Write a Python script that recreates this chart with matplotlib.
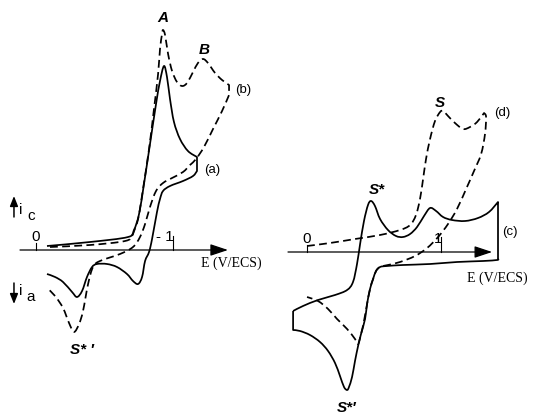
import matplotlib
matplotlib.use("Agg")
import matplotlib.pyplot as plt
from matplotlib.path import Path
from matplotlib.patches import PathPatch
import numpy as np

# ---------------- data (E in V/ECS, i in arbitrary current units) -------------
# Left panel, curve (a) solid
a_E = [-0.080, -0.394, -0.672, -0.715, -0.752, -0.788, -0.832, -0.876, -0.905, -0.934,
       -0.956, -0.978, -1.007, -1.051, -1.109, -1.175,
       -1.175, -1.146, -1.073, -0.978, -0.927, -0.905, -0.883, -0.847, -0.825, -0.796,
       -0.774, -0.745, -0.708, -0.664, -0.591, -0.518, -0.445, -0.409, -0.372, -0.336,
       -0.299, -0.263, -0.197, -0.139, -0.080]
a_i = [0.04, 0.08, 0.13, 0.20, 0.36, 0.66, 1.06, 1.46, 1.69, 1.84,
       1.73, 1.51, 1.28, 1.11, 0.99, 0.93,
       0.79, 0.74, 0.69, 0.64, 0.59, 0.51, 0.38, 0.11, -0.02, -0.11,
       -0.27, -0.34, -0.31, -0.24, -0.17, -0.14, -0.14, -0.17, -0.27, -0.41,
       -0.47, -0.42, -0.32, -0.27, -0.24]

# Left panel, curve (b) dashed
b_E = [-0.102, -0.394, -0.650, -0.701, -0.745, -0.781, -0.825, -0.861, -0.891, -0.905,
       -0.920, -0.927, -0.942, -0.964, -0.993, -1.029, -1.066, -1.102, -1.146, -1.182,
       -1.219, -1.255, -1.307, -1.358, -1.409,
       -1.409, -1.358, -1.292, -1.226, -1.168, -1.124, -1.073, -0.993, -0.927, -0.876,
       -0.832, -0.796, -0.759, -0.708, -0.613, -0.467, -0.416, -0.380, -0.343, -0.314,
       -0.277, -0.241, -0.197, -0.139, -0.080]
b_i = [0.03, 0.05, 0.09, 0.15, 0.31, 0.61, 1.01, 1.41, 1.76, 2.01,
       2.16, 2.20, 2.15, 1.96, 1.79, 1.68, 1.64, 1.67, 1.78, 1.87,
       1.91, 1.87, 1.77, 1.70, 1.65,
       1.55, 1.39, 1.21, 1.03, 0.91, 0.85, 0.78, 0.72, 0.67, 0.59,
       0.43, 0.26, 0.13, 0.03, -0.04, -0.11, -0.17, -0.34, -0.61, -0.74,
       -0.82, -0.73, -0.58, -0.46, -0.38]

# Right panel, curve (c) solid
c_E = [-0.104, -0.030, 0.082, 0.209, 0.299, 0.343, 0.373, 0.396, 0.425, 0.455,
       0.478, 0.507, 0.545, 0.604, 0.664, 0.716, 0.769, 0.821, 0.873, 0.918,
       0.963, 1.015, 1.082, 1.179, 1.276, 1.358, 1.425,
       1.425, 1.418, 1.313, 1.119, 0.918, 0.716, 0.597, 0.545, 0.515, 0.493,
       0.470, 0.448, 0.433, 0.403, 0.381, 0.358, 0.336, 0.313, 0.299, 0.276,
       0.246, 0.209, 0.157, 0.097, 0.022, -0.052, -0.104, -0.104]
c_i = [-0.59, -0.54, -0.48, -0.43, -0.38, -0.30, -0.12, 0.08, 0.31, 0.47,
       0.51, 0.46, 0.33, 0.22, 0.16, 0.15, 0.18, 0.25, 0.36, 0.44,
       0.41, 0.35, 0.32, 0.31, 0.34, 0.40, 0.50,
       -0.07, -0.08, -0.09, -0.10, -0.12, -0.13, -0.14, -0.15, -0.19, -0.27,
       -0.37, -0.52, -0.67, -0.82, -0.94, -1.09, -1.25, -1.35, -1.38, -1.35,
       -1.24, -1.11, -0.99, -0.90, -0.83, -0.79, -0.78, -0.59]

# Right panel, curve (d) dashed
d_E = [0.000, 0.172, 0.358, 0.545, 0.694, 0.769, 0.813, 0.843, 0.866, 0.888,
       0.918, 0.955, 0.993, 1.015, 1.052, 1.104, 1.164, 1.216, 1.269, 1.321,
       1.336, 1.328, 1.299, 1.246, 1.187, 1.119, 1.052, 0.978, 0.896, 0.806,
       0.694, 0.604, 0.545, 0.515, 0.493, 0.470, 0.448, 0.425, 0.403, 0.381,
       0.358, 0.299, 0.224, 0.157, 0.082, 0.000]
d_i = [0.06, 0.09, 0.13, 0.17, 0.22, 0.27, 0.37, 0.53, 0.73, 0.93,
       1.13, 1.31, 1.40, 1.41, 1.36, 1.29, 1.23, 1.25, 1.30, 1.39,
       1.35, 1.18, 0.98, 0.81, 0.63, 0.43, 0.28, 0.15, 0.04, -0.04,
       -0.10, -0.13, -0.15, -0.19, -0.27, -0.37, -0.52, -0.69, -0.82, -0.92,
       -0.87, -0.77, -0.67, -0.57, -0.49, -0.45]

left_ticks = [0, -1]
left_tick_labels = ["0", "- 1"]
right_ticks = [0, 1]
right_tick_labels = ["0", "1"]

# indices where the sweep reverses (sharp corners kept)
a_corners = [15, 16]
b_corners = [24, 25]
c_corners = [26, 27, 53]
d_corners = [19]


def smooth_path(xs, ys, corners):
    """Cubic path passing through every given point (Catmull-Rom tangents),
    broken into independent pieces at the sharp switching corners."""
    pts = np.column_stack([xs, ys])
    cuts = [0] + sorted(corners) + [len(pts) - 1]
    verts = [pts[0]]
    codes = [Path.MOVETO]
    for s, e in zip(cuts[:-1], cuts[1:]):
        seg = pts[s:e + 1]
        n = len(seg)
        for k in range(n - 1):
            p0 = seg[k - 1] if k > 0 else seg[k]
            p1, p2 = seg[k], seg[k + 1]
            p3 = seg[k + 2] if k + 2 < n else seg[k + 1]
            verts += [p1 + (p2 - p0) / 6.0, p2 - (p3 - p1) / 6.0, p2]
            codes += [Path.CURVE4] * 3
    return Path(verts, codes)


# ---------------- figure --------------------------------------------------------
fig = plt.figure(figsize=(5.37, 4.14), dpi=100)
axL = fig.add_axes([0, 0, 1, 1])
axR = fig.add_axes([0, 0, 1, 1])
axR.patch.set_alpha(0)
axL.set_xlim(0.263, -3.657)
axL.set_ylim(-1.63, 2.51)
axR.set_xlim(-2.291, 1.716)
axR.set_ylim(-1.61, 2.53)
for ax in (axL, axR):
    ax.axis("off")

dash = (0, (4.5, 2.5))
lw = 1.25
sans = ["Liberation Sans", "DejaVu Sans"]
serif = ["Liberation Serif", "DejaVu Serif"]


def draw_curve(ax, xs, ys, corners, ls):
    ax.add_patch(PathPatch(smooth_path(xs, ys, corners), facecolor="none",
                           edgecolor="black", lw=lw, linestyle=ls,
                           joinstyle="round", capstyle="butt"))


def axis_arrow(ax, x0, x1):
    ax.annotate("", xy=(x1, 0), xytext=(x0, 0),
                arrowprops=dict(arrowstyle="-|>,head_length=0.9,head_width=0.3",
                                color="black", lw=0.9, mutation_scale=12,
                                shrinkA=0, shrinkB=0))


def small_arrow(ax, x, y0, y1):
    ax.annotate("", xy=(x, y1), xytext=(x, y0),
                arrowprops=dict(arrowstyle="-|>,head_length=0.5,head_width=0.2",
                                color="black", lw=1.1, mutation_scale=12,
                                shrinkA=0, shrinkB=0))


bold_it = dict(fontsize=11, fontweight="bold", fontstyle="italic", family=sans,
               ha="center", va="center")
plain = dict(fontsize=9.5, family=sans, ha="center", va="center")

# left panel
draw_curve(axL, a_E, a_i, a_corners, "solid")
draw_curve(axL, b_E, b_i, b_corners, dash)
axis_arrow(axL, 0.117, -1.401)
for E, lab, h, dx in zip(left_ticks, left_tick_labels, [0.07, 0.14], [0.0, 0.06]):
    axL.plot([E, E], [0, h], color="black", lw=0.8)
    axL.text(E + dx, 0.14, lab, ha="center", va="center", fontsize=11, family=sans)
axL.text(-1.423, -0.12, "E (V/ECS)", ha="center", va="center", fontsize=10, family=serif)
axL.text(-0.927, 2.33, "A", **bold_it)
axL.text(-1.226, 2.01, "B", **bold_it)
axL.text(-1.511, 1.61, "(b)", **plain)
axL.text(-1.285, 0.81, "(a)", **plain)
axL.text(-0.336, -0.99, "S* \u2032", **bold_it)
# current direction arrows
small_arrow(axL, 0.161, 0.33, 0.54)
axL.text(0.109, 0.41, "i", fontsize=11, family=sans, ha="center", va="center")
axL.text(0.036, 0.35, "c", fontsize=11, family=sans, ha="center", va="center")
small_arrow(axL, 0.161, -0.33, -0.54)
axL.text(0.109, -0.40, "i", fontsize=11, family=sans, ha="center", va="center")
axL.text(0.036, -0.46, "a", fontsize=11, family=sans, ha="center", va="center")

# right panel
draw_curve(axR, c_E, c_i, c_corners, "solid")
draw_curve(axR, d_E, d_i, d_corners, dash)
axis_arrow(axR, -0.142, 1.381)
for E, lab, h, dx in zip(right_ticks, right_tick_labels, [0.07, 0.15], [0.0, -0.02]):
    axR.plot([E, E], [0, h], color="black", lw=0.8)
    axR.text(E + dx, 0.14, lab, ha="center", va="center", fontsize=11, family=sans)
axR.text(1.418, -0.25, "E (V/ECS)", ha="center", va="center", fontsize=10, family=serif)
axR.text(1.515, 0.21, "(c)", **plain)
axR.text(1.455, 1.40, "(d)", **plain)
axR.text(0.993, 1.50, "S", **bold_it)
axR.text(0.522, 0.63, "S*", **bold_it)
axR.text(0.299, -1.55, "S*\u2032", **bold_it)

fig.savefig("out.png", dpi=100)
